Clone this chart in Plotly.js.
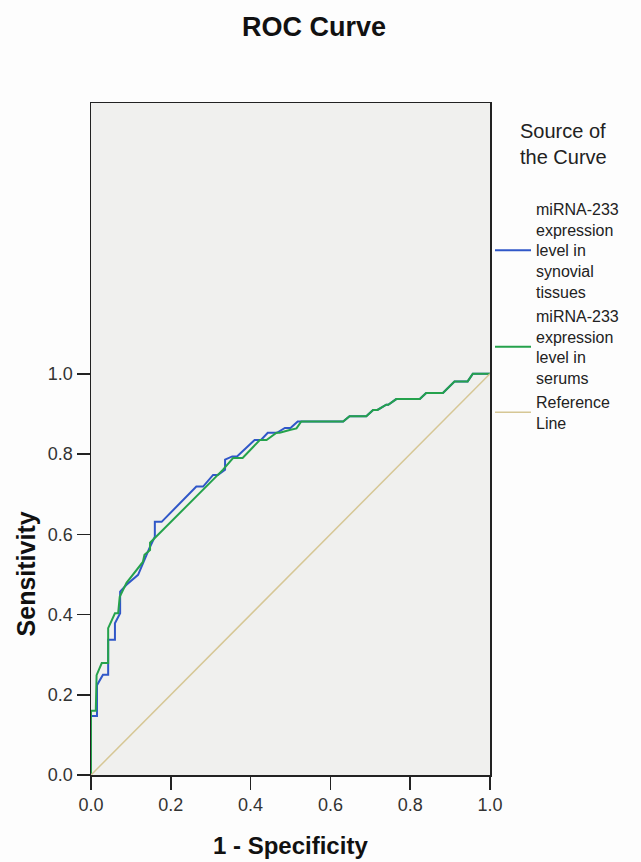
<!DOCTYPE html>
<html>
<head>
<meta charset="utf-8">
<script src="https://cdn.plot.ly/plotly-3.0.1.min.js"></script>
<style>html,body{margin:0;padding:0;background:#fdfdfd;}#chart{width:641px;height:862px;}</style>
</head>
<body>
<div id="chart"></div>
<script>
// ---- data ----
const blueName = "miRNA-233<br>expression<br>level in<br>synovial<br>tissues";
const greenName = "miRNA-233<br>expression<br>level in<br>serums";
const refName = "Reference<br>Line";

const blueX = [0, 0, 0.015, 0.015, 0.03, 0.043, 0.043, 0.06, 0.06, 0.073, 0.073, 0.089, 0.118, 0.13, 0.148, 0.16, 0.16, 0.177, 0.264, 0.281, 0.306, 0.318, 0.336, 0.336, 0.354, 0.366, 0.41, 0.426, 0.443, 0.466, 0.486, 0.50, 0.518, 0.632, 0.648, 0.69, 0.707, 0.718, 0.74, 0.745, 0.765, 0.824, 0.84, 0.882, 0.911, 0.944, 0.957, 1];
const blueY = [0, 0.147, 0.147, 0.224, 0.25, 0.25, 0.337, 0.337, 0.378, 0.403, 0.457, 0.474, 0.499, 0.528, 0.569, 0.594, 0.631, 0.631, 0.719, 0.719, 0.748, 0.748, 0.761, 0.786, 0.794, 0.794, 0.835, 0.835, 0.853, 0.853, 0.865, 0.865, 0.881, 0.881, 0.894, 0.894, 0.91, 0.91, 0.923, 0.923, 0.937, 0.937, 0.952, 0.952, 0.981, 0.981, 1.0, 1.0];

const greenX = [0, 0, 0.012, 0.014, 0.027, 0.043, 0.043, 0.06, 0.068, 0.072, 0.089, 0.13, 0.134, 0.148, 0.148, 0.331, 0.356, 0.38, 0.423, 0.44, 0.465, 0.473, 0.498, 0.515, 0.527, 0.632, 0.648, 0.69, 0.707, 0.718, 0.74, 0.745, 0.765, 0.824, 0.84, 0.882, 0.911, 0.944, 0.957, 1];
const greenY = [0, 0.16, 0.16, 0.249, 0.279, 0.279, 0.366, 0.403, 0.403, 0.444, 0.479, 0.531, 0.549, 0.561, 0.579, 0.761, 0.79, 0.79, 0.835, 0.835, 0.853, 0.853, 0.86, 0.864, 0.881, 0.881, 0.894, 0.894, 0.91, 0.91, 0.923, 0.923, 0.937, 0.937, 0.952, 0.952, 0.981, 0.981, 1.0, 1.0];

const refX = [0, 1];
const refY = [0, 1];

const tickVals = [0, 0.2, 0.4, 0.6, 0.8, 1.0];

const FONT = "Liberation Sans, Arial, sans-serif";

const traces = [
  {x: blueX, y: blueY, name: blueName, mode: "lines", line: {color: "#3057c8", width: 2}},
  {x: greenX, y: greenY, name: greenName, mode: "lines", line: {color: "#25a24c", width: 2}},
  {x: refX, y: refY, name: refName, mode: "lines", line: {color: "#d6c795", width: 1.5}}
];

const axisCommon = {
  showline: true, mirror: true, linecolor: "#222", linewidth: 1.5,
  ticks: "outside", ticklen: 13, tickwidth: 1.5, tickcolor: "#222",
  showgrid: false, zeroline: false,
  tickmode: "array", tickvals: tickVals, tickformat: ".1f",
  tickfont: {family: FONT, size: 18, color: "#333"}
};

const layout = {
  width: 641, height: 862,
  margin: {l: 91, r: 151, t: 103, b: 87},
  paper_bgcolor: "#fdfdfd",
  plot_bgcolor: "#f0f0ee",
  title: {text: "<b>ROC Curve</b>", x: 0.49, xanchor: "center", y: 0.969, yanchor: "middle", yref: "container",
          font: {family: FONT, size: 27, color: "#111"}},
  xaxis: Object.assign({}, axisCommon, {range: [0, 1]}),
  yaxis: Object.assign({}, axisCommon, {range: [0, 1.675]}),
  showlegend: true,
  legend: {
    x: 1.0, xanchor: "left", y: 0.868, yanchor: "top",
    bgcolor: "rgba(0,0,0,0)", borderwidth: 0,
    font: {family: FONT, size: 16, color: "#222"},
    itemwidth: 36, tracegroupgap: 0, valign: "middle"
  },
  annotations: [
    {text: "Source of<br>the Curve", xref: "paper", yref: "paper", x: (518 - 91) / 399, y: (775 - 118) / 672,
     xanchor: "left", yanchor: "top", align: "left", showarrow: false,
     font: {family: FONT, size: 20, color: "#222"}},
    {text: "<b>Sensitivity</b>", xref: "paper", yref: "y", x: (26 - 91) / 399, y: 0.5, textangle: -90,
     xanchor: "center", yanchor: "middle", showarrow: false,
     font: {family: FONT, size: 25, color: "#111"}},
    {text: "<b>1 - Specificity</b>", xref: "paper", yref: "paper", x: 0.5, y: (775 - 845) / 672,
     xanchor: "center", yanchor: "middle", showarrow: false,
     font: {family: FONT, size: 24, color: "#111"}}
  ]
};

Plotly.newPlot("chart", traces, layout, {displayModeBar: false, staticPlot: true});
</script>
</body>
</html>
